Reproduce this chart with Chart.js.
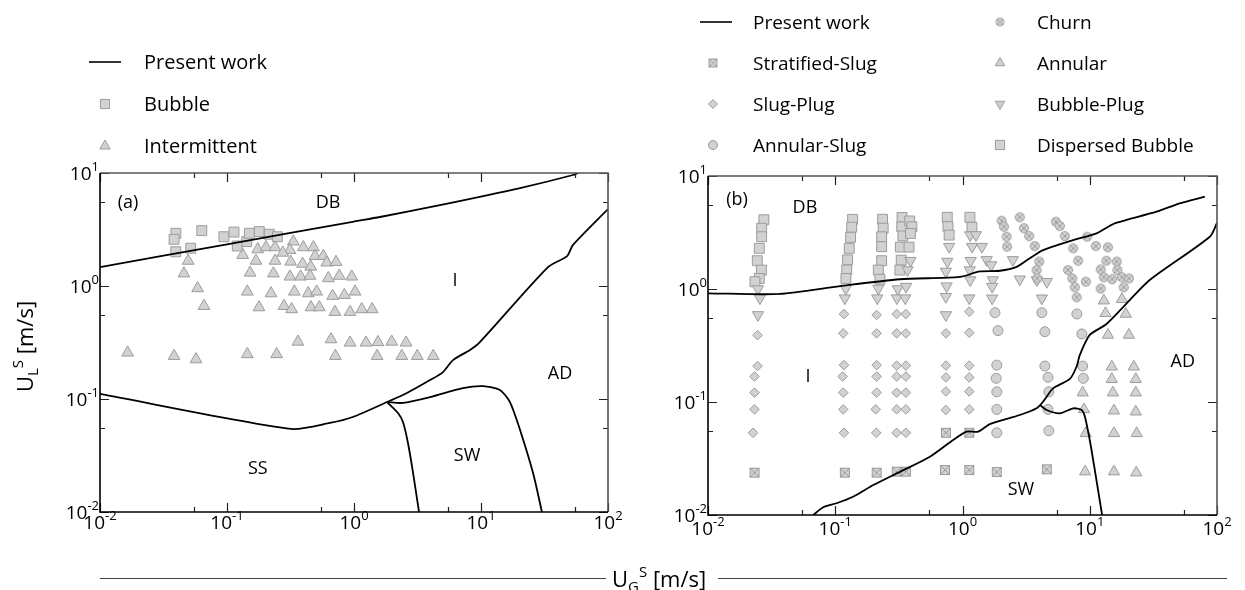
<!DOCTYPE html>
<html><head><meta charset="utf-8">
<script src="https://cdn.jsdelivr.net/npm/chart.js@4.4.1/dist/chart.umd.min.js"></script>
<style>
html,body{margin:0;padding:0;background:#fff;width:1245px;height:590px;overflow:hidden;}
canvas{position:absolute;left:0;top:0;}
</style></head><body>
<canvas id="ca" width="1245" height="590"></canvas>
<canvas id="cb" width="1245" height="590"></canvas>
<script>
// ---------------- tick labels ----------------
const xTicks = [0.01, 0.1, 1, 10, 100];
const xTickExp = ['-2', '-1', '0', '1', '2'];
const yTicks = [0.01, 0.1, 1, 10];
const yTickExp = ['-2', '-1', '0', '1'];

// ---------------- panel (a) ----------------
const aLineDB = [[0.01,1.47],[0.1,2.34],[1,3.72],[1.6,4.08],[4.75,5.2],[20.3,7.36],[53,9.6],[60,10.2]];
const aLineMain = [[0.01,0.111],[0.319,0.0544],[0.647,0.0614],[0.98,0.0693],[1.82,0.094],[2.61,0.113],[3.97,0.147],[5.02,0.173],[6.02,0.221],[8.19,0.272],[9.8,0.319],[33.7,1.47],[47.6,1.84],[53,2.31],[100,4.8]];
const aLineSWTop = [[1.82,0.094],[2.43,0.0923],[3.97,0.104],[7.21,0.125],[10.4,0.130],[14.1,0.120],[16.9,0.094],[20.3,0.0532],[25.7,0.0221],[30.2,0.01]];
const aLineSWLeft = [[1.82,0.094],[2.22,0.0752],[2.43,0.0625],[2.66,0.0408],[2.92,0.0221],[3.25,0.01]];
const aBubble = [[0.0396,2.93],[0.0383,2.59],[0.0395,2.01],[0.0518,2.16],[0.0633,3.09],[0.0946,2.73],[0.1135,3.0],[0.1205,2.26],[0.143,2.47],[0.150,2.93],[0.1795,3.03],[0.215,2.87],[0.249,2.73]];
const aIntermittent = [
 [0.0165,0.257],[0.0383,0.240],[0.0570,0.224],[0.1445,0.249],[0.246,0.249],[0.362,0.321],[0.659,0.337],[0.713,0.240],[0.931,0.315],[1.242,0.315],[1.545,0.318],[1.98,0.321],[2.57,0.315],[1.52,0.240],[2.38,0.240],[3.15,0.240],[4.21,0.240],
 [0.0659,0.665],[0.1786,0.647],[0.281,0.665],[0.323,0.622],[0.458,0.647],[0.533,0.647],[0.708,0.589],[0.931,0.589],[1.15,0.622],[1.39,0.622],
 [0.333,2.47],[0.313,2.08],[0.399,2.20],[0.479,2.20],[0.1746,2.11],[0.203,2.20],[0.239,2.20],[0.133,1.88],[0.275,1.97],[0.493,1.84],[0.573,1.84],
 [0.0495,1.67],[0.169,1.67],[0.239,1.67],[0.317,1.64],[0.394,1.57],[0.456,1.48],[0.610,1.61],[0.721,1.63],
 [0.0458,1.29],[0.152,1.31],[0.232,1.29],[0.313,1.21],[0.380,1.21],[0.451,1.23],[0.628,1.17],[0.766,1.23],[0.959,1.21],
 [0.0587,0.955],[0.1445,0.891],[0.222,0.861],[0.339,0.891],[0.436,0.861],[0.508,0.891],[0.679,0.817],[0.840,0.832],[1.02,0.891]
];

// ---------------- panel (b) ----------------
const bLineDB = [[0.01,0.916],[0.0368,0.904],[0.109,1.06],[0.322,1.22],[0.955,1.28],[1.37,1.43],[1.97,1.45],[2.66,1.57],[3.38,1.87],[4.30,2.21],[7.41,2.71],[11.3,3.11],[13.96,3.56],[16.3,3.86],[33.5,4.83],[51,5.73],[80.2,6.56]];
const bLineAD = [[0.0671,0.01],[0.0805,0.0117],[0.1026,0.0127],[0.138,0.0145],[0.199,0.0184],[0.322,0.0241],[0.555,0.0328],[0.845,0.0461],[1.08,0.0546],[1.33,0.0546],[1.64,0.0638],[2.82,0.0767],[3.82,0.0879],[4.30,0.1007],[5.15,0.132],[6.98,0.160],[7.87,0.205],[8.36,0.261],[10.0,0.392],[13.55,0.490],[19.5,0.746],[29.6,1.20],[87.8,2.90],[100,3.84]];
const bLineSW = [[4.06,0.094],[4.58,0.0849],[5.82,0.0794],[7.41,0.0879],[8.63,0.0849],[9.16,0.0741],[10.0,0.0461],[10.96,0.025],[12.5,0.01]];
const bStratifiedSlug = [[0.0232,0.0237],[0.119,0.0237],[0.2115,0.0237],[0.304,0.0242],[0.359,0.0242],[0.741,0.0534],[0.728,0.025],[1.13,0.0534],[1.13,0.025],[1.86,0.024],[4.6,0.0254]];
const bSlugPlug = [
 [0.0245,0.39],[0.0245,0.208],[0.0232,0.168],[0.0232,0.121],[0.0232,0.086],[0.0226,0.0534],
 [0.117,0.6],[0.1156,0.405],[0.117,0.212],[0.1143,0.168],[0.1156,0.121],[0.1156,0.086],[0.117,0.0534],
 [0.2115,0.589],[0.2115,0.405],[0.2115,0.212],[0.2115,0.168],[0.2115,0.121],[0.208,0.086],[0.21,0.0534],
 [0.304,0.6],[0.304,0.405],[0.304,0.21],[0.304,0.168],[0.304,0.121],[0.304,0.086],[0.304,0.0534],
 [0.359,0.6],[0.359,0.405],[0.359,0.21],[0.359,0.168],[0.359,0.121],[0.359,0.086],[0.359,0.0534],
 [0.741,0.405],[0.741,0.21],[0.741,0.165],[0.741,0.124],[0.741,0.085],
 [1.13,0.63],[1.13,0.41],[1.13,0.21],[1.13,0.165],[1.13,0.124],[1.13,0.086]
];
const bAnnularSlug = [
 [1.80,0.617],[1.9,0.428],[1.86,0.212],[1.84,0.162],[1.86,0.123],[1.86,0.086],[1.86,0.0534],
 [4.2,0.617],[4.44,0.419],[4.44,0.208],[4.7,0.1655],[4.77,0.123],[4.7,0.086],[4.77,0.0557],
 [7.92,0.601],[8.67,0.40],[8.8,0.208],[8.9,0.162]
];
const bChurn = [
 [2.03,4.02],[2.12,3.56],[2.22,2.90],[2.24,2.37],[2.82,4.31],[3.04,3.45],[3.34,2.94],[3.70,2.40],[4.01,1.75],[3.82,1.47],[3.86,1.24],
 [5.42,3.94],[5.82,3.61],[6.37,2.94],[7.41,2.29],[8.1,1.78],[6.76,1.47],[7.3,1.24],[7.64,1.035],[7.9,0.845],[9.32,1.16],[9.55,2.90],
 [11.17,2.40],[13.87,2.34],[13.5,1.78],[12.2,1.49],[12.9,1.27],[12.2,1.01],[16.3,1.75],[16.5,1.47],[15.0,1.22],[17.9,1.27],[20.3,1.24],[18.5,1.035]
];
const bAnnular = [
 [8.8,0.121],[9.0,0.086],[9.3,0.0528],[9.2,0.0242],
 [12.9,0.788],[13.3,0.61],[13.9,0.392],[14.9,0.205],[14.9,0.159],[15.2,0.121],[15.5,0.0838],[15.5,0.0528],[15.5,0.0242],
 [17.9,0.811],[19.2,0.601],[20.3,0.392],[22.2,0.205],[23.0,0.159],[23.0,0.121],[23.0,0.082],[23.4,0.0528],[23.2,0.0237]
];
const bBubblePlug = [
 [0.0247,1.0],[0.0256,0.83],[0.0247,0.59],
 [0.121,1.01],[0.119,0.83],
 [0.218,1.01],[0.214,0.83],
 [0.31,1.0],[0.305,0.83],
 [0.39,1.78],[0.37,1.47],[0.36,1.05],[0.355,0.83],
 [0.785,2.37],[0.76,1.75],[0.74,1.43],[0.75,1.06],[0.74,0.855],[0.74,0.589],
 [1.15,3.0],[1.19,2.37],[1.16,1.78],[1.14,1.47],[1.15,1.2],[1.13,0.83],
 [1.274,3.01],[1.42,2.37],[1.55,1.81],[1.68,1.63],[1.73,1.2],[1.71,1.05],[1.71,0.828],
 [2.49,1.81],[2.82,1.22],[3.84,1.20],[4.6,1.16],[4.2,0.828]
];
const bDispersedBubble = [
 [0.0275,4.1],[0.0264,3.45],[0.0264,2.9],[0.0253,2.29],[0.0244,1.78],[0.0263,1.47],[0.0253,1.24],[0.0234,1.16],
 [0.137,4.14],[0.1346,3.52],[0.132,2.87],[0.1288,2.29],[0.125,1.81],[0.123,1.47],[0.1213,1.24],
 [0.2355,4.14],[0.238,3.45],[0.2315,2.9],[0.2315,2.37],[0.2315,1.78],[0.218,1.47],[0.2245,1.22],
 [0.335,4.3],[0.333,3.55],[0.34,2.95],[0.325,2.35],[0.33,1.8],[0.322,1.47],
 [0.385,4.0],[0.40,3.55],[0.39,3.1],[0.38,2.35],
 [0.759,4.31],[0.769,3.56],[0.785,3.0],
 [1.143,4.31],[1.186,3.52]
];

// ---------------- styling / helpers ----------------
const FILL = '#d2d2d2', EDGE = '#9c9c9c';
const FONT = '"Open Sans", "Liberation Sans", sans-serif';
const TEXT = '#000';
const MINOR = 5.5;
const pts = a => a.map(p => ({x: p[0], y: p[1]}));

function makeIcon(kind, size) {
  const s = size + 2, c = document.createElement('canvas');
  c.width = s; c.height = s;
  const g = c.getContext('2d');
  g.fillStyle = FILL; g.strokeStyle = EDGE; g.lineWidth = 1;
  const m = s / 2, h = size / 2;
  if (kind === 'boxX') {
    g.fillRect(m - h, m - h, size, size);
    g.strokeRect(m - h + 0.5, m - h + 0.5, size - 1, size - 1);
    g.beginPath();
    g.moveTo(m - h + 0.5, m - h + 0.5); g.lineTo(m + h - 0.5, m + h - 0.5);
    g.moveTo(m + h - 0.5, m - h + 0.5); g.lineTo(m - h + 0.5, m + h - 0.5);
    g.stroke();
  } else {
    g.beginPath(); g.arc(m, m, h - 0.5, 0, 2 * Math.PI); g.fill(); g.stroke();
    const d = (h - 0.5) * Math.SQRT1_2;
    g.beginPath();
    g.moveTo(m - d, m - d); g.lineTo(m + d, m + d);
    g.moveTo(m + d, m - d); g.lineTo(m - d, m + d);
    g.stroke();
  }
  return c;
}
const iconBoxX = makeIcon('boxX', 10), iconCircX = makeIcon('circX', 10);
const iconBoxXs = makeIcon('boxX', 9), iconCircXs = makeIcon('circX', 9);

function lineDS(data) {
  return {data: pts(data), showLine: true, pointRadius: 0, borderColor: '#000', borderWidth: 1.8,
          tension: 0.25, fill: false, order: 0};
}
function markDS(label, data, style, radius, rotation) {
  return {label, data: pts(data), showLine: false, pointStyle: style, pointRadius: radius,
          pointRotation: rotation || 0, backgroundColor: FILL, borderColor: EDGE, pointBorderWidth: 1, order: 1};
}

function drawMarker(ctx, style, rot, r, x, y) {
  if (style instanceof HTMLCanvasElement) { ctx.drawImage(style, x - style.width / 2, y - style.height / 2); return; }
  ctx.save(); ctx.fillStyle = FILL; ctx.strokeStyle = EDGE; ctx.lineWidth = 1; ctx.beginPath();
  if (style === 'rect') { const s = r * Math.SQRT1_2; ctx.rect(x - s, y - s, 2 * s, 2 * s); }
  else if (style === 'rectRot') { ctx.moveTo(x - r, y); ctx.lineTo(x, y - r); ctx.lineTo(x + r, y); ctx.lineTo(x, y + r); ctx.closePath(); }
  else if (style === 'circle') { ctx.arc(x, y, r, 0, 2 * Math.PI); }
  else if (style === 'triangle') {
    let a = rot * Math.PI / 180;
    for (let i = 0; i < 3; i++) { const px = x + Math.sin(a) * r, py = y - Math.cos(a) * r; i ? ctx.lineTo(px, py) : ctx.moveTo(px, py); a += 2 * Math.PI / 3; }
    ctx.closePath();
  }
  ctx.fill(); ctx.stroke(); ctx.restore();
}

function powLabel(ctx, exp, x, y, align) {
  ctx.font = '19px ' + FONT; const wb = ctx.measureText('10').width;
  ctx.font = '13px ' + FONT; const we = ctx.measureText(exp).width;
  const x0 = align === 'center' ? x - (wb + we) / 2 : x - (wb + we);
  ctx.textAlign = 'left'; ctx.textBaseline = 'alphabetic';
  ctx.font = '19px ' + FONT; ctx.fillText('10', x0, y);
  ctx.font = '13px ' + FONT; ctx.fillText(exp, x0 + wb, y - 9);
}

// composed title: parts [text, size, dy]
function drawParts(ctx, parts, x, y) {
  let cx = x;
  for (const [t, s, dy] of parts) { ctx.font = s + 'px ' + FONT; ctx.fillText(t, cx, y + dy); cx += ctx.measureText(t).width; }
}

function panelPlugin(cfg) {
  return {
    id: 'panel',
    afterDraw(chart) {
      const ctx = chart.ctx, {left, right, top, bottom} = chart.chartArea;
      const xs = chart.scales.x, ys = chart.scales.y;
      ctx.save();
      // ticks (inward, all four sides)
      ctx.lineWidth = 1.2; ctx.strokeStyle = '#222';
      ctx.beginPath();
      xTicks.forEach(v => {
        [[v, 9], [v * MINOR, 5]].forEach(([t, L]) => {
          if (t > xTicks[xTicks.length - 1] * 1.0001) return;
          const p = Math.round(xs.getPixelForValue(t)) + 0.5;
          ctx.moveTo(p, bottom); ctx.lineTo(p, bottom - L);
          ctx.moveTo(p, top); ctx.lineTo(p, top + L);
        });
      });
      yTicks.forEach(v => {
        [[v, 9], [v * MINOR, 5]].forEach(([t, L]) => {
          if (t > yTicks[yTicks.length - 1] * 1.0001) return;
          const p = Math.round(ys.getPixelForValue(t)) + 0.5;
          ctx.moveTo(left, p); ctx.lineTo(left + L, p);
          ctx.moveTo(right, p); ctx.lineTo(right - L, p);
        });
      });
      ctx.stroke();
      // frame
      ctx.lineWidth = 1.6; ctx.strokeStyle = '#555';
      ctx.beginPath(); ctx.moveTo(left, top); ctx.lineTo(right, top); ctx.lineTo(right, bottom); ctx.stroke();
      ctx.strokeStyle = '#000';
      ctx.beginPath(); ctx.moveTo(left, top); ctx.lineTo(left, bottom); ctx.lineTo(right, bottom); ctx.stroke();
      // tick labels
      ctx.fillStyle = TEXT;
      xTicks.forEach((v, i) => powLabel(ctx, xTickExp[i], xs.getPixelForValue(v), bottom + cfg.xLabDy, 'center'));
      yTicks.forEach((v, i) => powLabel(ctx, yTickExp[i], left - 1, ys.getPixelForValue(v) + 7, 'right'));
      // region labels
      ctx.font = '18px ' + FONT; ctx.textAlign = 'center'; ctx.textBaseline = 'middle';
      cfg.regions.forEach(r => ctx.fillText(r.t, xs.getPixelForValue(r.x), ys.getPixelForValue(r.y)));
      // legend
      ctx.textAlign = 'left'; ctx.textBaseline = 'alphabetic'; ctx.font = cfg.legFont + 'px ' + FONT;
      cfg.legend.forEach(it => {
        if (it.line) {
          ctx.strokeStyle = '#000'; ctx.lineWidth = 1.6;
          ctx.beginPath(); ctx.moveTo(it.mx - 16, it.y - 7); ctx.lineTo(it.mx + 16, it.y - 7); ctx.stroke();
        } else {
          drawMarker(ctx, it.style, it.rot || 0, it.r, it.mx, it.y - 7);
        }
        ctx.fillStyle = TEXT; ctx.fillText(it.text, it.tx, it.y);
      });
      if (cfg.titles) {
        ctx.fillStyle = TEXT; ctx.textAlign = 'left'; ctx.textBaseline = 'alphabetic';
        // x title
        drawParts(ctx, [['U', 22, 0], ['G', 15, 5], ['S', 15, -10], [' [m/s]', 22, 0]], 612, 587);
        ctx.strokeStyle = '#444'; ctx.lineWidth = 1.2;
        ctx.beginPath(); ctx.moveTo(100, 578.5); ctx.lineTo(606, 578.5); ctx.moveTo(718, 578.5); ctx.lineTo(1227, 578.5); ctx.stroke();
        // y title
        ctx.save(); ctx.translate(33, 392); ctx.rotate(-Math.PI / 2);
        drawParts(ctx, [['U', 22, 0], ['L', 15, 5], ['S', 15, -10], [' [m/s]', 22, 0]], 0, 0);
        ctx.restore();
      }
      ctx.restore();
    }
  };
}

function baseOptions(pad) {
  return {
    responsive: false, animation: false, events: [],
    layout: {padding: pad},
    plugins: {legend: {display: false}, tooltip: {enabled: false}},
    scales: {
      x: {type: 'logarithmic', min: 0.01, max: 100, display: false},
      y: {type: 'logarithmic', min: 0.01, max: 10, display: false}
    }
  };
}

// ---------------- chart (a) ----------------
new Chart(document.getElementById('ca'), {
  type: 'scatter',
  data: {datasets: [
    lineDS(aLineDB), lineDS(aLineMain), lineDS(aLineSWTop), lineDS(aLineSWLeft),
    markDS('Bubble', aBubble, 'rect', 7),
    markDS('Intermittent', aIntermittent, 'triangle', 6.8)
  ]},
  options: baseOptions({left: 100, top: 173, right: 637, bottom: 78}),
  plugins: [panelPlugin({
    xLabDy: 17, legFont: 20, titles: true,
    regions: [{t:'(a)', x:0.0166, y:5.43}, {t:'DB', x:0.624, y:5.43}, {t:'I', x:6.24, y:1.107},
              {t:'AD', x:41.9, y:0.166}, {t:'SS', x:0.175, y:0.024}, {t:'SW', x:7.77, y:0.0313}],
    legend: [
      {line: true, mx: 105, y: 69, tx: 144, text: 'Present work'},
      {style: 'rect', r: 6.5, mx: 105, y: 111, tx: 144, text: 'Bubble'},
      {style: 'triangle', r: 6, mx: 105, y: 153, tx: 144, text: 'Intermittent'}
    ]
  })]
});

// ---------------- chart (b) ----------------
new Chart(document.getElementById('cb'), {
  type: 'scatter',
  data: {datasets: [
    lineDS(bLineDB), lineDS(bLineAD), lineDS(bLineSW),
    markDS('Stratified-Slug', bStratifiedSlug, iconBoxX, 5),
    markDS('Slug-Plug', bSlugPlug, 'rectRot', 4.8),
    markDS('Annular-Slug', bAnnularSlug, 'circle', 5),
    markDS('Churn', bChurn, iconCircX, 5),
    markDS('Annular', bAnnular, 'triangle', 6.5),
    markDS('Bubble-Plug', bBubblePlug, 'triangle', 6.5, 180),
    markDS('Dispersed Bubble', bDispersedBubble, 'rect', 7)
  ]},
  options: baseOptions({left: 708, top: 176, right: 28, bottom: 75}),
  plugins: [panelPlugin({
    xLabDy: 20, legFont: 19, titles: false,
    regions: [{t:'(b)', x:0.0169, y:6.14}, {t:'DB', x:0.0578, y:5.21}, {t:'I', x:0.061, y:0.166},
              {t:'AD', x:53.8, y:0.226}, {t:'SW', x:2.88, y:0.0166}],
    legend: [
      {line: true, mx: 716, y: 29, tx: 753, text: 'Present work'},
      {style: iconBoxXs, r: 5, mx: 713, y: 70, tx: 753, text: 'Stratified-Slug'},
      {style: 'rectRot', r: 4.5, mx: 713, y: 111, tx: 753, text: 'Slug-Plug'},
      {style: 'circle', r: 4.5, mx: 713, y: 152, tx: 753, text: 'Annular-Slug'},
      {style: iconCircXs, r: 5, mx: 1000, y: 29, tx: 1037, text: 'Churn'},
      {style: 'triangle', r: 5.5, mx: 1000, y: 70, tx: 1037, text: 'Annular'},
      {style: 'triangle', rot: 180, r: 5.5, mx: 1000, y: 111, tx: 1037, text: 'Bubble-Plug'},
      {style: 'rect', r: 6.5, mx: 1000, y: 152, tx: 1037, text: 'Dispersed Bubble'}
    ]
  })]
});
</script>
</body></html>
